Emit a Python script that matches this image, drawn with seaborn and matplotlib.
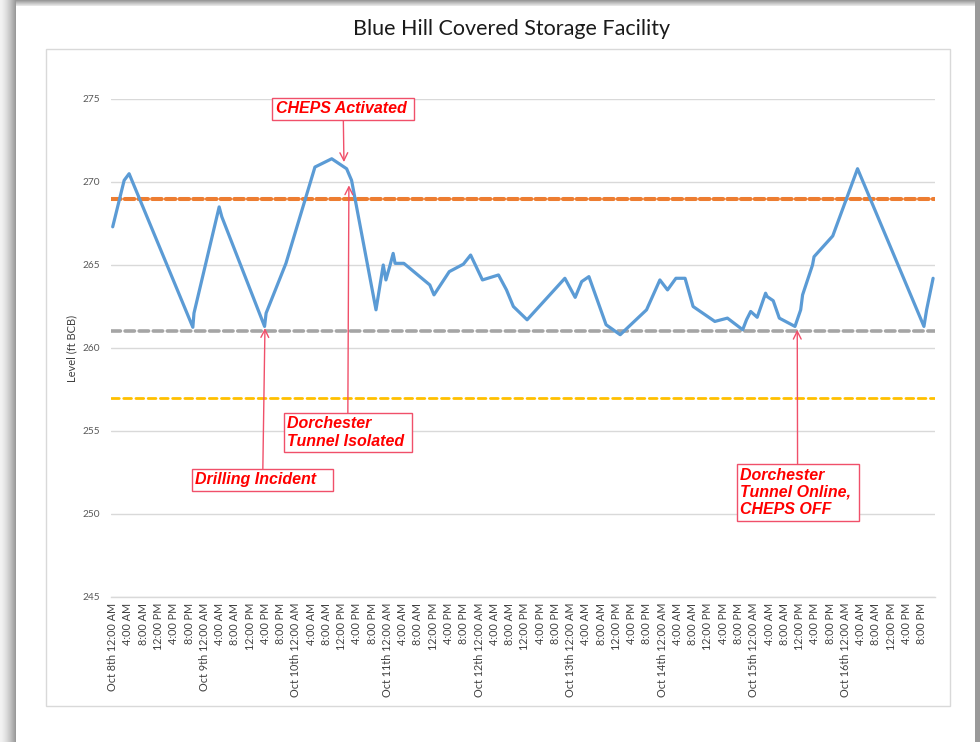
import numpy as np
import pandas as pd
import seaborn as sns
import matplotlib.pyplot as plt
from matplotlib.patches import Rectangle

# hours since Oct 8th 12:00 AM, reservoir level (ft BCB)
hours = [0, 3.0, 4.3, 21.0, 21.3, 27.9, 28.6, 39.8, 40.2, 45.4, 53.0, 57.4, 61.3, 62.6,
         69.0, 70.9, 71.6, 72.7, 73.5, 74.0, 76.3, 83.1, 84.2, 88.2, 91.9, 93.8, 96.9,
         101.1, 103.2, 105.0, 108.6, 118.5, 121.2, 122.9, 124.8, 129.3, 133.0, 139.9,
         143.4, 145.4, 147.6, 150.0, 152.1, 157.8, 161.1, 165.1, 166.1, 167.2, 168.9,
         171.1, 171.5, 173.1, 174.7, 178.8, 180.3, 180.8, 183.4, 183.8, 188.7, 195.2,
         212.6, 213.3, 215.0]
levels = [267.3, 270.1, 270.5, 261.25, 262.1, 268.5, 267.9, 261.3, 262.1, 265.1, 270.9,
          271.4, 270.8, 270.1, 262.3, 265.0, 264.1, 265.0, 265.7, 265.1, 265.1, 263.8,
          263.2, 264.6, 265.05, 265.6, 264.1, 264.4, 263.5, 262.5, 261.7, 264.2, 263.05,
          264.0, 264.3, 261.4, 260.8, 262.3, 264.1, 263.5, 264.2, 264.2, 262.5, 261.6,
          261.8, 261.1, 261.7, 262.2, 261.85, 263.3, 263.1, 262.85, 261.8, 261.3, 262.3,
          263.2, 265.0, 265.5, 266.75, 270.8, 261.3, 262.3, 264.2]

high_level = 269
low_level = 261
min_level = 257

days = ["Oct 8th", "Oct 9th", "Oct 10th", "Oct 11th", "Oct 12th",
        "Oct 13th", "Oct 14th", "Oct 15th", "Oct 16th"]
times = ["12:00 AM", "4:00 AM", "8:00 AM", "12:00 PM", "4:00 PM", "8:00 PM"]

# events: label, hour, level pointed at, label position (hour, level)
event_labels = ["CHEPS Activated ", "Dorchester       \nTunnel Isolated ", "Drilling Incident   ",
                "Dorchester       \nTunnel Online, \nCHEPS OFF"]
event_hours = [60.6, 61.9, 39.9, 179.4]
event_levels = [271.2, 269.8, 261.2, 261.1]
label_hours = [60.4, 61.6, 39.3, 179.5]
label_levels = [274.4, 254.9, 252.05, 251.3]

df = pd.DataFrame({"hour": hours, "level": levels})

sns.set_theme(style="white")
plt.rcParams['font.family'] = ['Lato', 'DejaVu Sans']

fig = plt.figure(figsize=(9.8, 7.42), dpi=100)
W, H = 980, 742

# screenshot shadow + chart border
for i in range(16):
    g = 0.95 - 0.35 * (i / 15) ** 1.5
    fig.add_artist(Rectangle((i / W, 0), 1 / W, 1, transform=fig.transFigure,
                             color=(g, g, g), lw=0, zorder=0))
for j in range(6):
    g = 0.6 + 0.06 * j
    fig.add_artist(Rectangle((16 / W, 1 - (j + 1) / H), 1, 1 / H, transform=fig.transFigure,
                             color=(g, g, g), lw=0, zorder=0))
fig.add_artist(Rectangle((975 / W, 0), 5 / W, 1, transform=fig.transFigure,
                         color="#9a9a9a", lw=0, zorder=0))
fig.add_artist(Rectangle((46 / W, 1 - 706 / H), 904 / W, 657 / H, transform=fig.transFigure,
                         fill=False, edgecolor="#d9d9d9", lw=1, zorder=1))

ax = fig.add_axes([110.8 / W, 1 - 597 / H, (935 - 110.8) / W, (597 - 99) / H])
ax.set_facecolor("none")

ax.axhline(high_level, color="#ED7D31", lw=2.9, dashes=(2.4, 1.0), dash_capstyle="round", zorder=2)
ax.axhline(low_level, color="#A5A5A5", lw=2.6, dashes=(2.6, 1.3), dash_capstyle="round", zorder=2)
ax.axhline(min_level, color="#FFC000", lw=2.0, dashes=(2.8, 1.6), dash_capstyle="round", zorder=2)

sns.lineplot(data=df, x="hour", y="level", ax=ax, color="#5B9BD5", lw=2.3, zorder=3)

ax.set_xlim(-0.5, 215.5)
ax.set_ylim(245, 275)
ax.set_yticks(np.arange(245, 276, 5))
ax.yaxis.grid(True, color="#d9d9d9", lw=1)
ax.set_axisbelow(True)

tick_pos = np.arange(0, len(days) * 24, 4)
tick_lab = []
for d in days:
    for t in times:
        tick_lab.append(f"{d} {t}" if t == times[0] else t)
ax.set_xticks(tick_pos)
ax.set_xticklabels(tick_lab, rotation=90, fontsize=7.8, color="#404040")
ax.tick_params(axis="x", length=0, pad=4)
ax.tick_params(axis="y", length=0, pad=8, labelsize=7.3, labelcolor="#595959")

for s in ["top", "right", "left"]:
    ax.spines[s].set_visible(False)
ax.spines["bottom"].set_color("#d9d9d9")
ax.spines["bottom"].set_linewidth(1)

ax.set_xlabel("")
ax.set_ylabel("")
fig.text(72 / W, 1 - 348 / H, "Level (ft BCB)", rotation=90, ha="center", va="center",
         fontsize=8, color="#404040")
fig.text(512 / W, 1 - 29 / H, "Blue Hill Covered Storage Facility", ha="center", va="center",
         fontsize=15.5, color="#1a1a1a")

for lab, ex, ey, lx, ly in zip(event_labels, event_hours, event_levels, label_hours, label_levels):
    ax.annotate(lab, xy=(ex, ey), xytext=(lx, ly), textcoords="data",
                ha="center", va="center", multialignment="left",
                fontsize=11.5, fontweight="bold", fontstyle="italic", color="red",
                family=["Liberation Sans", "DejaVu Sans"],
                bbox=dict(boxstyle="square,pad=0.2", fc="white", ec="#F0506A", lw=1),
                arrowprops=dict(arrowstyle="->", color="#F0506A", lw=1,
                                mutation_scale=14, shrinkA=0, shrinkB=0),
                zorder=5)

fig.savefig("out.png", dpi=100)
plt.close()
